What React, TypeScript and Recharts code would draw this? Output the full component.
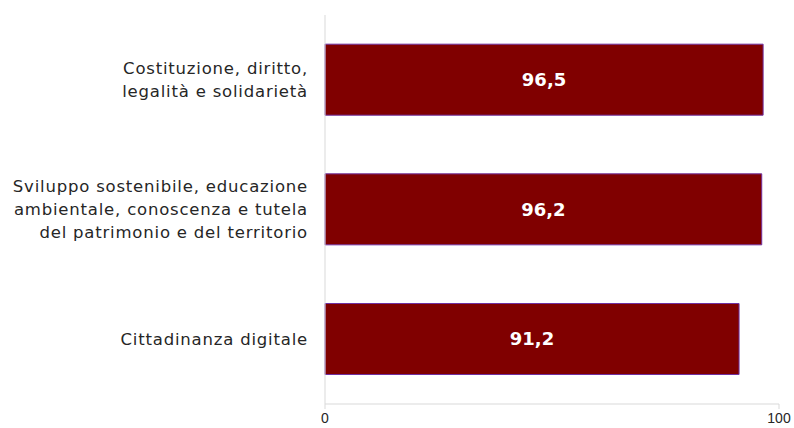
import React from "react";
import { BarChart, Bar, XAxis, YAxis, LabelList } from "recharts";

const categories = [
  "Costituzione, diritto,\nlegalità e solidarietà",
  "Sviluppo sostenibile, educazione\nambientale, conoscenza e tutela\ndel patrimonio e del territorio",
  "Cittadinanza digitale",
];
const values = [96.5, 96.2, 91.2];
const xTicks = [0, 100];

const data = categories.map((name, i) => ({ name, value: values[i] }));

const FONT = "'DejaVu Sans', Verdana, sans-serif";

function CategoryTick(props: any) {
  const { x, y, payload } = props;
  const lines: string[] = String(payload.value).split("\n");
  const lineH = 23;
  const startY = y - ((lines.length - 1) * lineH) / 2;
  return (
    <text
      x={x - 9}
      y={startY}
      textAnchor="end"
      fontFamily={FONT}
      fontSize={16.5}
      letterSpacing={0.8}
      fill="#262626"
    >
      {lines.map((l, i) => (
        <tspan key={i} x={x - 9} y={startY + i * lineH} dy="0.35em">
          {l}
        </tspan>
      ))}
    </text>
  );
}

function ValueTick(props: any) {
  const { x, y, payload } = props;
  return (
    <text
      x={x}
      y={y + 12}
      textAnchor="middle"
      fontFamily="'Liberation Sans', Arial, sans-serif"
      fontSize={14}
      fill="#262626"
    >
      {payload.value}
    </text>
  );
}

export default function App() {
  return (
    <div style={{ position: "absolute", left: 0, top: 0, width: 794, height: 428, background: "#fff" }}>
      <BarChart
        width={794}
        height={428}
        data={data}
        layout="vertical"
        margin={{ top: 15, right: 15, bottom: 0, left: 0 }}
        barCategoryGap="22.5%"
      >
        <XAxis
          type="number"
          domain={[0, 100]}
          ticks={xTicks}
          height={24}
          axisLine={{ stroke: "#d9d9d9" }}
          tickLine={{ stroke: "#d9d9d9" }}
          tickSize={5}
          tick={<ValueTick />}
        />
        <YAxis
          type="category"
          dataKey="name"
          width={325}
          axisLine={{ stroke: "#d9d9d9" }}
          tickLine={false}
          tick={<CategoryTick />}
          interval={0}
        />
        <Bar dataKey="value" fill="#800000" stroke="#7030a0" strokeWidth={1} isAnimationActive={false}>
          <LabelList
            dataKey="value"
            position="center"
            formatter={(v: any) => String(v).replace(".", ",")}
            style={{ fill: "#ffffff", fontFamily: FONT, fontSize: 18, fontWeight: "bold" }}
          />
        </Bar>
      </BarChart>
    </div>
  );
}
